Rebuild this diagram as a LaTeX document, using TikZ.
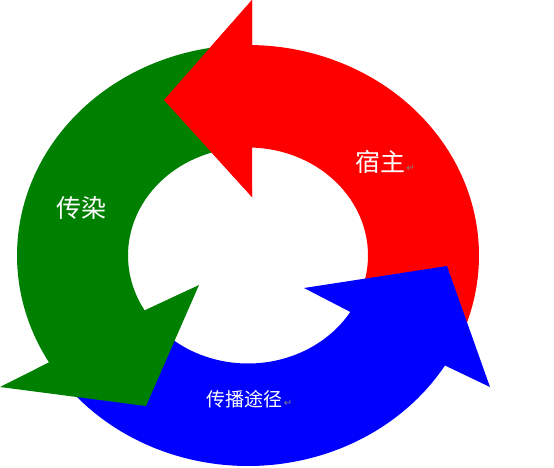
\documentclass[tikz,border=0pt]{standalone}
\usepackage{fontspec}
\newfontfamily\cjk{Noto Sans CJK SC}
\newfontfamily\symfont{DejaVu Sans}
\definecolor{cred}{RGB}{255,0,0}
\definecolor{cgreen}{RGB}{0,128,0}
\definecolor{cblue}{RGB}{0,0,255}
\definecolor{cmark}{RGB}{128,128,128}
\tikzset{
  lbl/.style={text=white, inner sep=0pt, font=\cjk\fontsize{25}{28}\selectfont},
  lblsmall/.style={text=white, inner sep=0pt, font=\cjk\fontsize{19}{22}\selectfont},
  pmark/.style={text=cmark, inner sep=0pt, font=\symfont\fontsize{10}{11}\selectfont},
}
\begin{document}
\begin{tikzpicture}[x=1pt,y=-1pt]
\useasboundingbox (0,0) rectangle (554,467);
% red arrow (host)
\fill[cred] (164,100) -- (252,0)
  -- plot[domain=89.0:-25,samples=80] ({248+231*cos(\x)},{255.5-210.5*sin(\x)})
  -- plot[domain=-25:88.1,samples=80] ({248+120*cos(\x)},{255.5-108*sin(\x)})
  -- (252,197) -- cycle;
% blue arrow (route)
\fill[cblue] plot[domain=215:328.5,samples=80] ({248+231*cos(\x)},{255.5-210.5*sin(\x)})
  -- (490,387) -- (447,266) -- (304,288)
  -- plot[domain=328.5:215,samples=80] ({248+120*cos(\x)},{255.5-108*sin(\x)})
  -- cycle;
% green arrow (infection)
\fill[cgreen] plot[domain=95:210.5,samples=80] ({248+231*cos(\x)},{255.5-210.5*sin(\x)})
  -- (0,387) -- (146,406) -- (199,285)
  -- plot[domain=210.5:95,samples=80] ({248+120*cos(\x)},{255.5-108*sin(\x)})
  -- cycle;
% red head on top of green tail
\fill[cred] (164,100) -- (252,0) -- (252,197) -- cycle;
% labels
\node[lbl] (host) at (380,161.5) {宿主};
\node[pmark, anchor=base west] (hostm) at ([xshift=1pt]host.base east) {↵};
\node[lbl] (inf) at (81,207.5) {传染};
\node[lblsmall] (route) at (244.5,399) {传播途径};
\node[pmark, anchor=base west] (routem) at ([xshift=1pt]route.base east) {↵};
\end{tikzpicture}
\end{document}
